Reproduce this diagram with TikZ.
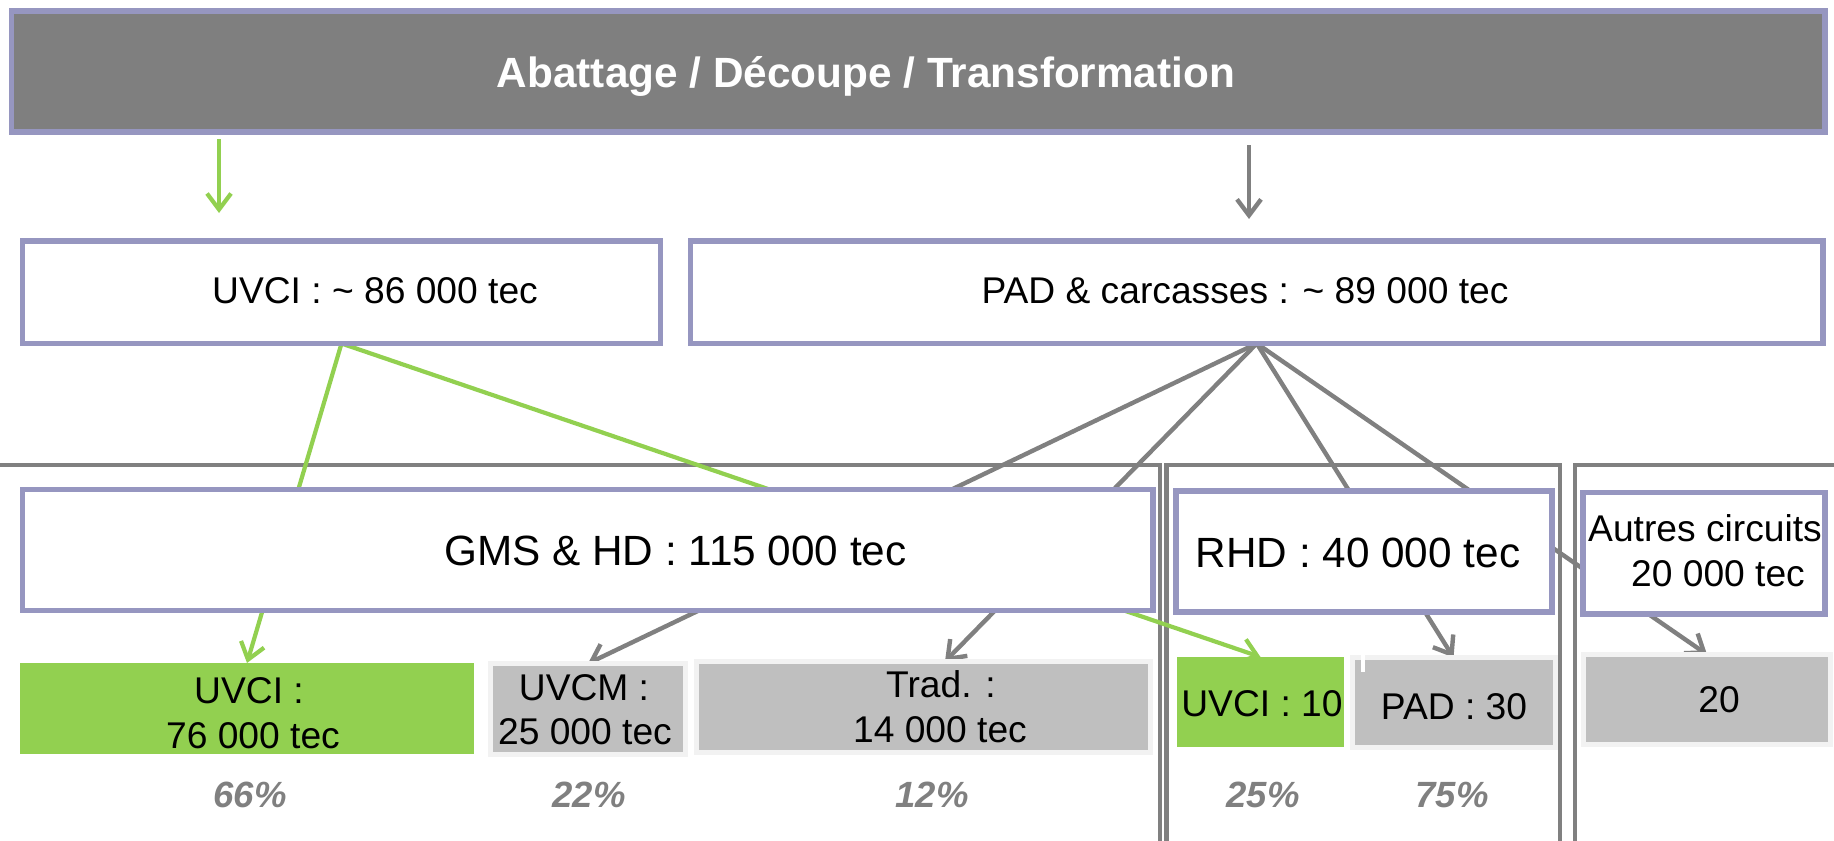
\documentclass[tikz,border=0pt]{standalone}
\usepackage{fontspec}
\setmainfont{Liberation Sans}
\usetikzlibrary{arrows.meta}
\definecolor{lav}{RGB}{150,150,192}
\definecolor{dgray}{RGB}{127,127,127}
\definecolor{lgray}{RGB}{191,191,191}
\definecolor{lborder}{RGB}{242,242,242}
\definecolor{vgreen}{RGB}{146,208,80}
\definecolor{cgray}{RGB}{128,128,128}
\pgfdeclarelayer{back}
\pgfsetlayers{back,main}
\begin{document}
\begin{tikzpicture}[x=0.5pt,y=-0.5pt,
 mainbox/.style={draw=lav,line width=2.6pt,fill=white,inner sep=0pt,outer sep=0pt},
 titlebox/.style={mainbox,fill=dgray},
 greybox/.style={draw=lborder,line width=2.5pt,fill=lgray,inner sep=0pt,outer sep=0pt},
 greenbox/.style={fill=vgreen,inner sep=0pt,outer sep=0pt},
 titletxt/.style={anchor=base,inner sep=0pt,text=white,font={\fontsize{21.15pt}{25pt}\selectfont\bfseries}},
 bigtxt/.style={anchor=base,inner sep=0pt,font={\fontsize{21.15pt}{25pt}\selectfont}},
 txt/.style={anchor=base,inner sep=0pt,font={\fontsize{18.6pt}{22pt}\selectfont}},
 pct/.style={anchor=base,inner sep=0pt,text=cgray,font={\fontsize{18.25pt}{22pt}\selectfont\bfseries\itshape}},
 framebox/.style={draw=cgray,line width=2.4pt},
 glink/.style={draw=cgray,line width=2.2pt,line join=round,-{Straight Barb[length=8pt,width=12pt]}},
 vlink/.style={draw=vgreen,line width=2.1pt,line join=round,-{Straight Barb[length=8pt,width=12pt]}},
]
\useasboundingbox (0,0) rectangle (1834,840);

% title
\node[titlebox,minimum width=906.75pt,minimum height=60.5pt] (title) at (918.25,71.5) {};
\node[titletxt] (titleT) at (866,88) {Abattage / Découpe / Transformation};

% second row
\node[mainbox,minimum width=319pt,minimum height=51.25pt] (uvciT) at (341.5,292.25) {};
\node[txt] (uvciTt) at (375,303) {UVCI : \textasciitilde{} 86 000 tec};
\node[mainbox,minimum width=566.25pt,minimum height=51.25pt] (padT) at (1256.75,292.25) {};
\node[txt] (padTt) at (1245,303) {PAD \& carcasses : \textasciitilde{} 89 000 tec};

% third row
\node[mainbox,minimum width=565.25pt,minimum height=60.5pt] (gms) at (587.75,550) {};
\node[bigtxt] (gmst) at (675.5,565) {GMS \& HD : 115 000 tec};
\node[mainbox,minimum width=188pt,minimum height=60.5pt] (rhd) at (1364,551.5) {};
\node[bigtxt] (rhdt) at (1358,567) {RHD : 40 000 tec};
\node[mainbox,minimum width=121pt,minimum height=60.75pt] (autres) at (1704,553.25) {};
\node[txt] (autresA) at (1705,541) {Autres circuits};
\node[txt] (autresB) at (1718,586) {20 000 tec};

% bottom row
\node[greenbox,minimum width=227pt,minimum height=45.5pt] (uv76) at (247,708.5) {};
\node[txt] (uv76a) at (249,703) {UVCI :};
\node[txt] (uv76b) at (253,748) {76 000 tec};
\node[greybox,minimum width=97.5pt,minimum height=45.5pt] (uvcm) at (588,709) {};
\node[txt] (uvcma) at (584,700) {UVCM :};
\node[txt] (uvcmb) at (585,744) {25 000 tec};
\node[greybox,minimum width=227pt,minimum height=45.25pt] (trad) at (923,706.75) {};
\node[txt] (trada) at (941,697) {Trad. :};
\node[txt] (tradb) at (940,742) {14 000 tec};
\node[greenbox,minimum width=83.5pt,minimum height=45pt] (uv10) at (1260.5,702) {};
\node[txt] (uv10t) at (1262,716) {UVCI : 10};
\node[greybox,minimum width=101.5pt,minimum height=45pt] (pad30) at (1453.5,702.5) {};
\node[txt] (pad30t) at (1454,719) {PAD : 30};
\draw[white,line width=2pt] (1363,655) -- (1363,672);
\node[greybox,minimum width=123.5pt,minimum height=45pt] (b20) at (1707,699.5) {};
\node[txt] (b20t) at (1719,712) {20};

% percentages
\node[pct] (p66) at (250,807) {66\%};
\node[pct] (p22) at (589,807) {22\%};
\node[pct] (p12) at (932,807) {12\%};
\node[pct] (p25) at (1263,807) {25\%};
\node[pct] (p75) at (1452,807) {75\%};

% coordinates for free ends
\coordinate (ga) at (219,139);
\coordinate (gb) at (219,213);
\coordinate (pa) at (1249,145);
\coordinate (pb) at (1249,219);
\coordinate (tradtip) at ([xshift=11pt]trad.north);

\begin{pgfonlayer}{back}
 % section frames
 \draw[framebox] (-10,465) -- (1160,465) -- (1160,850);
 \draw[framebox] (1166.5,850) -- (1166.5,465) -- (1560,465) -- (1560,850);
 \draw[framebox] (1575,850) -- (1575,465) -- (1850,465);
 % connectors
 \draw[glink] (padT.south) -- (uvcm.north);
 \draw[glink] (padT.south) -- (tradtip);
 \draw[glink] (padT.south) -- (pad30.north);
 \draw[glink] (padT.south) -- (b20.north);
 \draw[vlink] (uvciT.south) -- (uv76.north);
 \draw[vlink] (uvciT.south) -- (uv10.north);
\end{pgfonlayer}
\draw[vlink] (ga) -- (gb);
\draw[glink] (pa) -- (pb);
\end{tikzpicture}
\end{document}
